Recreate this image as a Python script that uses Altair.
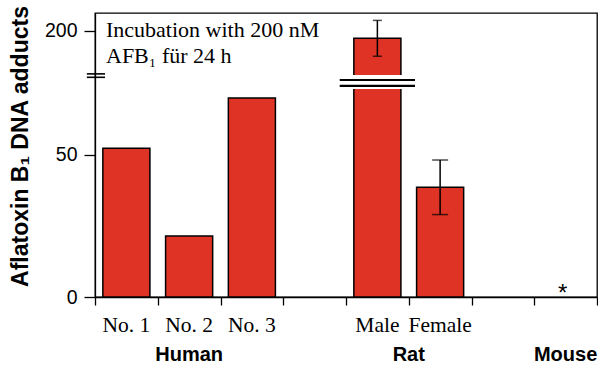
import altair as alt
import pandas as pd

# ---- data ----
labels = ["No. 1", "No. 2", "No. 3", "Male", "Female"]
species = ["Human", "Human", "Human", "Rat", "Rat"]
values = [52.3, 21.5, 70.0, 197.4, 38.6]
errors = [0.0, 0.0, 0.0, 6.3, 9.6]
groups = ["Human", "Rat", "Mouse"]
not_detected = ["Mouse"]          # marked with an asterisk
y_ticks = [0, 50, 200]
note_lines = ["Incubation with 200 nM", "AFB\u2081 f\u00fcr 24 h"]
y_title = "Aflatoxin B\u2081 DNA adducts"

# broken y axis (piecewise scale)
break_low, break_high, y_top = 76.0, 182.4, 206.3
gap_low, gap_high = 73.2, 184.5          # white gap cut into the tall bar
bar_break_marks = [182.75, 74.3]          # double line over the tall bar
axis_break_marks = [184.9, 183.7]         # double dash on the y axis

W, H = 502, 284
RED = "#DF3325"

# ---- layout of slots (one empty slot after each group) ----
rows, group_rows = [], []
pos = 0
for g in groups:
    members = [i for i, s in enumerate(species) if s == g]
    n = max(len(members), 1)
    for k, i in enumerate(members):
        rows.append({"label": labels[i], "species": g, "value": values[i],
                     "err": errors[i], "slot": pos + k})
    group_rows.append({"group": g, "center": pos + n / 2.0, "start": pos,
                       "nd": g in not_detected})
    pos += n + 1
n_slots = pos - 1

bars = pd.DataFrame(rows)
grp = pd.DataFrame(group_rows)

xscale = alt.Scale(domain=[0, n_slots], nice=False, zero=False)
yscale = alt.Scale(domain=[0, break_low, break_high, y_top],
                   range=[H, 68, 68, 0], nice=False, zero=False)
xaxis = alt.Axis(values=list(range(n_slots + 1)), labels=False,
                 tickSize=8, grid=False, title=None)
yaxis = alt.Axis(values=y_ticks, tickSize=11, labelPadding=7,
                 labelFontSize=19.5, labelFont="Liberation Sans",
                 grid=False, title=y_title, titleFontSize=23,
                 titleFont="Liberation Sans", titleFontWeight="bold",
                 titlePadding=12, titleY=133, titleColor="black")


def X(f):
    return alt.X(f, type="quantitative", scale=xscale, axis=xaxis)


def Y(f):
    return alt.Y(f, type="quantitative", scale=yscale, axis=yaxis)


base = alt.Chart(bars).transform_calculate(
    x0="datum.slot + 0.125", x1="datum.slot + 0.875", xc="datum.slot + 0.5",
    lo="datum.value - datum.err", hi="datum.value + datum.err")

bar_layer = base.mark_rect(fill=RED, stroke="black", strokeWidth=1.5).encode(
    x=X("x0"), x2="x1:Q", y=Y("value"), y2=alt.datum(0))

gap_layer = base.transform_filter(f"datum.value > {break_high}").transform_calculate(
    g0="datum.slot + 0.1", g1="datum.slot + 0.9",
    gl=str(gap_low), gh=str(gap_high)).mark_rect(fill="white").encode(
    x=X("g0"), x2="g1:Q", y=Y("gl"), y2="gh:Q")

tall = [r for r in rows if r["value"] > break_high]
tall_slot = tall[0]["slot"] if tall else 0
bar_break_layer = alt.Chart(pd.DataFrame({"m": bar_break_marks})).transform_calculate(
    a=f"{tall_slot} - 0.1", b=f"{tall_slot} + 1.1").mark_rule(
    color="black", strokeWidth=2.2).encode(x=X("a"), x2="b:Q", y=Y("m"))

axis_break_layer = alt.Chart(pd.DataFrame({"m": axis_break_marks})).transform_calculate(
    a="-0.13", b="0.16").mark_rule(color="black", strokeWidth=1.6).encode(
    x=X("a"), x2="b:Q", y=Y("m"))

err_base = base.transform_filter("datum.err > 0")
err_rule = err_base.mark_rule(color="black", strokeWidth=1.5).encode(
    x=X("xc"), y=Y("lo"), y2="hi:Q")
cap_size = alt.condition("datum.label == 'Male'", alt.value(9), alt.value(16))
err_cap_lo = err_base.mark_tick(color="black", thickness=1.5, orient="horizontal").encode(
    x=X("xc"), y=Y("lo"), size=cap_size)
err_cap_hi = err_base.mark_tick(color="black", thickness=1.5, orient="horizontal").encode(
    x=X("xc"), y=Y("hi"), size=cap_size)

star_layer = alt.Chart(grp).transform_filter("datum.nd").transform_calculate(
    zero="0").mark_text(text="*", font="Liberation Sans", fontSize=24,
                        baseline="bottom", dy=9, dx=-3, color="black").encode(
    x=X("center"), y=Y("zero"))

sub_labels = base.mark_text(font="Liberation Serif", fontSize=21.5,
                            baseline="alphabetic", color="black").encode(
    x=X("xc"), y=alt.value(319), text="label:N")

group_labels = alt.Chart(grp).mark_text(font="Liberation Sans", fontSize=20,
                                        fontWeight="bold", baseline="bottom",
                                        color="black").encode(
    x=X("center"), y=alt.value(352), text="group:N")

note = alt.Chart(pd.DataFrame({"k": [0]})).mark_text(
    text=note_lines, font="Liberation Serif", fontSize=22, align="left",
    baseline="alphabetic", lineHeight=26, color="black").encode(
    x=alt.value(11), y=alt.value(24))

chart = alt.layer(
    bar_layer, gap_layer, bar_break_layer, axis_break_layer,
    err_rule, err_cap_lo, err_cap_hi, star_layer,
    sub_labels, group_labels, note,
).properties(
    width=W, height=H, background="white",
    autosize=alt.AutoSizeParams(type="none"),
    padding={"left": 95, "top": 13, "right": 1, "bottom": 69},
).configure_view(stroke="black", strokeWidth=1.3).configure_axis(
    domainColor="black", tickColor="black", labelColor="black",
    domainWidth=1.3, tickWidth=1.3,
)

chart.save("out.html", embed_options={"renderer": "svg", "actions": False})
